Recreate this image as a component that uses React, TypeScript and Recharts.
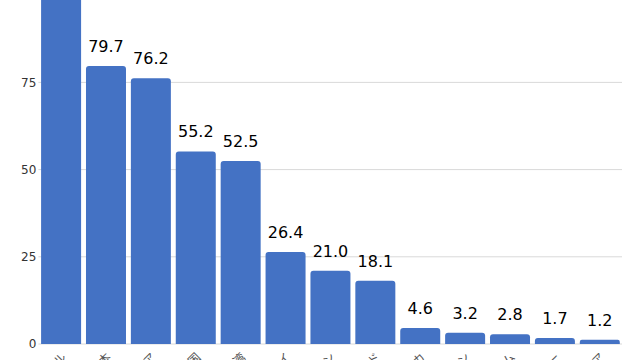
import React from 'react';
import { BarChart, Bar, XAxis, YAxis, CartesianGrid, LabelList } from 'recharts';

const countries = [
  'シンガポール', '日本', 'オーストラリア', '韓国', '台湾', 'タイ', 'フィリピン',
  'インド', 'スリランカ', 'パキスタン', 'ベトナム', 'ミャンマー', 'カンボジア',
];
const values = [104.3, 79.7, 76.2, 55.2, 52.5, 26.4, 21.0, 18.1, 4.6, 3.2, 2.8, 1.7, 1.2];
const yTicks = [0, 25, 50, 75, 100, 125];

const chartData = countries.map((name, i) => ({ name, value: values[i] }));

const font = '"DejaVu Sans", "Noto Sans CJK JP", sans-serif';

const App: React.FC = () => {
  return (
    <div style={{ position: 'absolute', left: 0, top: 0, width: 640, height: 360, overflow: 'hidden', background: '#fff' }}>
      <div style={{ position: 'absolute', left: 0, top: -102 }}>
        <BarChart
          width={640}
          height={506}
          data={chartData}
          margin={{ top: 10, right: 18, left: 0, bottom: 0 }}
          barCategoryGap="6%"
          style={{ fontFamily: font }}
        >
          <CartesianGrid vertical={false} stroke="#d9d9d9" />
          <XAxis
            dataKey="name"
            interval={0}
            angle={-45}
            textAnchor="end"
            height={60}
            tickLine={false}
            axisLine={false}
            tick={{ fontSize: 12, fill: '#555' }}
          />
          <YAxis
            domain={[0, 125]}
            ticks={yTicks}
            width={38.4}
            tickLine={false}
            axisLine={false}
            tickSize={0}
            tickMargin={2}
            tick={{ fontSize: 12, fill: '#333' }}
          />
          <Bar dataKey="value" fill="#4472c4" radius={[3, 3, 0, 0]} isAnimationActive={false}>
            <LabelList
              dataKey="value"
              position="top"
              offset={14}
              formatter={(v: any) => Number(v).toFixed(1)}
              style={{ fontSize: 16, fill: '#000' }}
            />
          </Bar>
        </BarChart>
      </div>
    </div>
  );
};

export default App;
